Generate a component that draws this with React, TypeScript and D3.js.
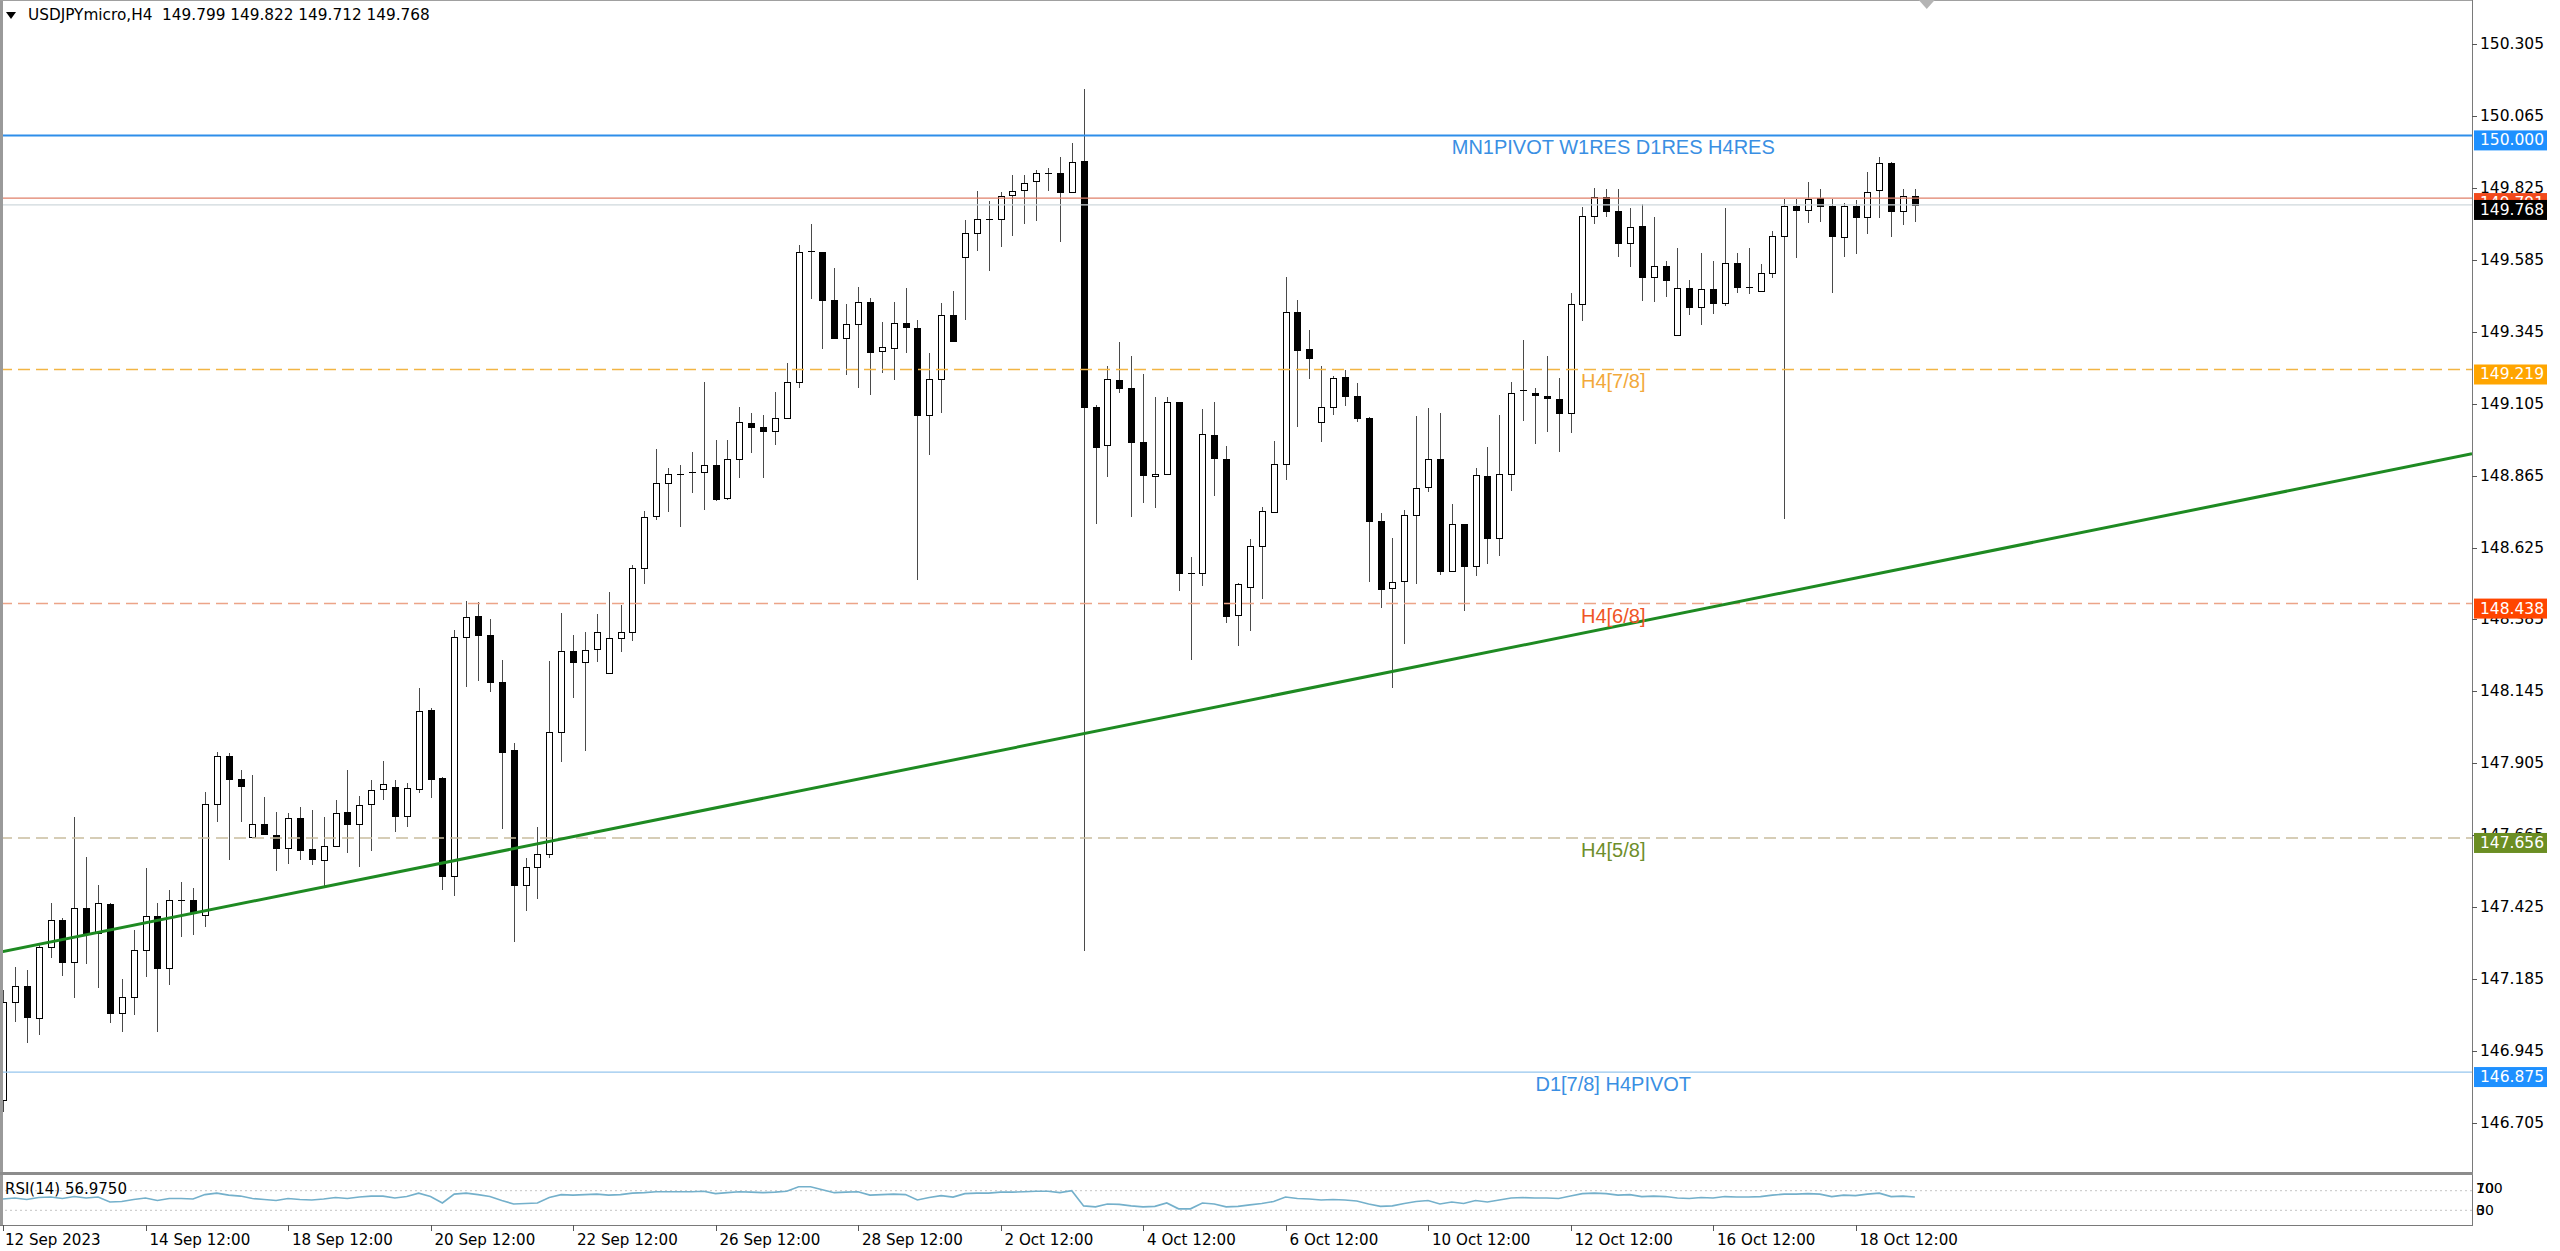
import React from 'react';
import * as d3 from 'd3';

// ---------- DATA ----------
const symbolTitle = 'USDJPYmicro,H4';
const headerOHLC = ['149.799', '149.822', '149.712', '149.768'];

const open = [
  146.782, 147.110, 147.163, 147.054, 147.293, 147.382, 147.243, 147.421, 147.338, 147.435,
  147.073, 147.126, 147.282, 147.397, 147.221, 147.449, 147.449, 147.399, 147.769, 147.930,
  147.853, 147.660, 147.702, 147.666, 147.621, 147.721, 147.618, 147.582, 147.630, 147.742,
  147.702, 147.769, 147.821, 147.825, 147.729, 147.821, 148.083, 147.855, 147.529, 148.325,
  148.396, 148.333, 148.177, 147.949, 147.499, 147.558, 147.604, 148.011, 148.280, 148.244,
  148.285, 148.207, 148.324, 148.344, 148.556, 148.730, 148.839, 148.872, 148.875, 148.876,
  148.902, 148.789, 148.919, 149.042, 149.028, 149.014, 149.056, 149.178, 149.610, 149.610,
  149.451, 149.323, 149.371, 149.445, 149.281, 149.290, 149.375, 149.359, 149.067, 149.186,
  149.401, 149.595, 149.676, 149.721, 149.720, 149.801, 149.818, 149.849, 149.873, 149.873,
  149.810, 149.916, 149.093, 148.967, 149.184, 149.158, 148.978, 148.864, 148.872, 149.109,
  148.541, 148.541, 149.000, 148.920, 148.400, 148.494, 148.631, 148.745, 148.903, 149.410,
  149.286, 149.045, 149.093, 149.193, 149.131, 149.058, 148.713, 148.489, 148.513, 148.733,
  148.826, 148.922, 148.547, 148.702, 148.564, 148.864, 148.656, 148.870, 149.146, 149.142,
  149.131, 149.120, 149.075, 149.437, 149.731, 149.793, 149.748, 149.640, 149.698, 149.526,
  149.565, 149.334, 149.490, 149.426, 149.486, 149.440, 149.575, 149.495, 149.481, 149.542,
  149.664, 149.764, 149.751, 149.792, 149.764, 149.660, 149.764, 149.729, 149.818, 149.907,
  149.748, 149.799,
];
const high = [
  147.148, 147.226, 147.215, 147.304, 147.438, 147.388, 147.727, 147.593, 147.499, 147.440,
  147.184, 147.349, 147.555, 147.438, 147.482, 147.510, 147.488, 147.810, 147.944, 147.938,
  147.883, 147.866, 147.794, 147.744, 147.738, 147.760, 147.749, 147.727, 147.783, 147.883,
  147.796, 147.849, 147.914, 147.849, 147.838, 148.158, 148.090, 147.860, 148.350, 148.448,
  148.444, 148.385, 148.250, 147.972, 147.590, 147.694, 148.247, 148.405, 148.333, 148.344,
  148.402, 148.478, 148.433, 148.567, 148.748, 148.953, 148.889, 148.900, 148.945, 149.178,
  148.984, 148.984, 149.095, 149.073, 149.067, 149.145, 149.242, 149.634, 149.704, 149.612,
  149.556, 149.437, 149.495, 149.456, 149.379, 149.445, 149.492, 149.384, 149.273, 149.442,
  149.482, 149.718, 149.816, 149.782, 149.812, 149.868, 149.868, 149.885, 149.890, 149.929,
  149.974, 150.155, 149.100, 149.231, 149.312, 149.264, 149.204, 149.128, 149.126, 149.112,
  148.594, 149.086, 149.109, 148.965, 148.506, 148.652, 148.759, 148.981, 149.529, 149.451,
  149.351, 149.231, 149.197, 149.217, 149.175, 149.060, 148.739, 148.656, 148.750, 149.064,
  149.089, 149.075, 148.769, 148.705, 148.891, 148.961, 149.067, 149.178, 149.317, 149.157,
  149.264, 149.189, 149.475, 149.762, 149.823, 149.820, 149.820, 149.757, 149.771, 149.729,
  149.582, 149.623, 149.518, 149.609, 149.582, 149.757, 149.609, 149.623, 149.571, 149.682,
  149.787, 149.787, 149.846, 149.820, 149.787, 149.776, 149.785, 149.879, 149.929, 149.910,
  149.820, 149.822,
];
const low = [
  146.742, 147.043, 146.971, 146.998, 147.254, 147.195, 147.121, 147.237, 147.157, 147.037,
  147.009, 147.065, 147.193, 147.009, 147.165, 147.326, 147.332, 147.360, 147.710, 147.582,
  147.710, 147.658, 147.666, 147.547, 147.569, 147.582, 147.566, 147.493, 147.627, 147.605,
  147.560, 147.613, 147.783, 147.677, 147.694, 147.805, 147.788, 147.484, 147.462, 148.161,
  148.181, 148.144, 147.685, 147.310, 147.412, 147.454, 147.590, 147.910, 148.122, 147.947,
  148.244, 148.203, 148.277, 148.313, 148.505, 148.717, 148.745, 148.694, 148.806, 148.750,
  148.780, 148.785, 148.856, 148.939, 148.856, 148.967, 149.054, 149.156, 149.453, 149.286,
  149.320, 149.201, 149.156, 149.134, 149.208, 149.184, 149.273, 148.517, 148.934, 149.073,
  149.313, 149.384, 149.615, 149.549, 149.627, 149.664, 149.704, 149.716, 149.816, 149.645,
  149.808, 147.280, 148.703, 148.859, 149.139, 148.726, 148.772, 148.756, 148.870, 148.480,
  148.250, 148.497, 148.798, 148.372, 148.296, 148.347, 148.453, 148.742, 148.850, 149.028,
  149.186, 148.978, 149.067, 149.097, 149.045, 148.509, 148.422, 148.155, 148.302, 148.505,
  148.811, 148.533, 148.545, 148.413, 148.530, 148.569, 148.597, 148.815, 149.048, 148.970,
  149.011, 148.945, 149.008, 149.382, 149.704, 149.727, 149.595, 149.562, 149.448, 149.445,
  149.460, 149.331, 149.401, 149.367, 149.404, 149.431, 149.473, 149.471, 149.479, 149.523,
  148.720, 149.590, 149.709, 149.712, 149.475, 149.595, 149.604, 149.671, 149.723, 149.660,
  149.700, 149.712,
];
const close = [
  147.110, 147.163, 147.060, 147.293, 147.382, 147.243, 147.421, 147.338, 147.438, 147.073,
  147.126, 147.282, 147.397, 147.221, 147.449, 147.447, 147.404, 147.769, 147.929, 147.853,
  147.829, 147.702, 147.668, 147.623, 147.724, 147.616, 147.586, 147.630, 147.740, 147.702,
  147.766, 147.816, 147.836, 147.729, 147.824, 148.081, 147.853, 147.529, 148.325, 148.394,
  148.333, 148.177, 147.942, 147.499, 147.558, 147.601, 148.011, 148.280, 148.244, 148.283,
  148.344, 148.324, 148.344, 148.556, 148.726, 148.839, 148.869, 148.871, 148.876, 148.902,
  148.787, 148.919, 149.045, 149.028, 149.014, 149.056, 149.178, 149.610, 149.615, 149.451,
  149.323, 149.371, 149.445, 149.278, 149.295, 149.373, 149.360, 149.067, 149.186, 149.401,
  149.315, 149.673, 149.721, 149.720, 149.798, 149.816, 149.840, 149.873, 149.874, 149.810,
  149.912, 149.093, 148.959, 149.186, 149.158, 148.978, 148.867, 148.871, 149.109, 148.539,
  148.540, 149.003, 148.925, 148.398, 148.502, 148.631, 148.747, 148.903, 149.410, 149.284,
  149.256, 149.095, 149.189, 149.131, 149.056, 148.713, 148.487, 148.511, 148.733, 148.822,
  148.919, 148.547, 148.702, 148.564, 148.867, 148.656, 148.870, 149.142, 149.150, 149.134,
  149.123, 149.075, 149.437, 149.731, 149.793, 149.748, 149.640, 149.696, 149.526, 149.565,
  149.518, 149.490, 149.426, 149.486, 149.442, 149.575, 149.495, 149.494, 149.542, 149.664,
  149.764, 149.751, 149.787, 149.764, 149.664, 149.764, 149.729, 149.812, 149.909, 149.748,
  149.799, 149.768,
];
const rsi = [
  53, 55, 52, 56, 57, 54, 58, 55, 57, 47,
  48, 52, 55, 50, 54, 54, 53, 62, 65, 61,
  59, 54, 52, 50, 54, 52, 51, 53, 56, 54,
  57, 59, 59, 55, 58, 65, 58, 45, 63, 65,
  62, 58, 50, 43, 44, 45, 56, 62, 61, 62,
  63, 61, 62, 65, 66, 68, 68, 68, 68, 69,
  64, 66, 68, 67, 66, 67, 69, 78, 78, 72,
  66, 67, 68, 61, 62, 63, 62, 51, 56, 60,
  57, 64, 65, 65, 67, 67, 68, 69, 69, 66,
  70, 39, 37, 43, 42, 39, 37, 38, 45, 33,
  33, 45, 43, 37, 38, 41, 44, 48, 57, 54,
  53, 51, 52, 51, 49, 43, 38, 39, 44, 48,
  50, 43, 47, 44, 50, 47, 51, 55, 56, 55,
  55, 54, 59, 64, 65, 64, 61, 62, 58, 59,
  58, 55, 54, 56, 55, 58, 57, 57, 58, 61,
  63, 63, 64, 63, 58, 61, 60, 63, 65, 58,
  59, 57,
];
const rsiLabel = 'RSI(14) 56.9750';
const rsiLevels = [70, 30];
const rsiAxisLabels = [['100', '70'], ['30', '0']];

const priceTicks = [150.305, 150.065, 149.825, 149.585, 149.345, 149.105, 148.865, 148.625,
  148.385, 148.145, 147.905, 147.665, 147.425, 147.185, 146.945, 146.705];

const dateTickIndex = [0, 12, 24, 36, 48, 60, 72, 84, 96, 108, 120, 132, 144, 156];
const dateTickLabels = ['12 Sep 2023', '14 Sep 12:00', '18 Sep 12:00', '20 Sep 12:00', '22 Sep 12:00',
  '26 Sep 12:00', '28 Sep 12:00', '2 Oct 12:00', '4 Oct 12:00', '6 Oct 12:00', '10 Oct 12:00',
  '12 Oct 12:00', '16 Oct 12:00', '18 Oct 12:00'];

const levelPrices = [150.0, 149.219, 148.438, 147.656, 146.875];
const levelNames = ['MN1PIVOT W1RES D1RES H4RES', 'H4[7/8]', 'H4[6/8]', 'H4[5/8]', 'D1[7/8] H4PIVOT'];
const levelTextIndex = 135.6;

const bidPrice = 149.768;
const askPrice = 149.791;

const trendIndex = [0, 160];
const trendPrice = [147.277, 148.555];

const shiftIndex = 162;

// ---------- STYLES ----------
const levelStyles = [
  { line: '#2E8EEA', width: 2, dash: undefined as string | undefined, box: '#1E90FF', text: '#3A8FE3' },
  { line: '#F2B544', width: 1.5, dash: '12 6', box: '#FFA500', text: '#F2A93B' },
  { line: '#ECA488', width: 1.5, dash: '12 6', box: '#FF4500', text: '#EF5526' },
  { line: '#C9BD9F', width: 1.5, dash: '12 6', box: '#6B8E23', text: '#6E8E2B' },
  { line: '#96C6EE', width: 1.2, dash: undefined as string | undefined, box: '#1E90FF', text: '#3A8FE3' },
];

const UI_FONT = '"DejaVu Sans", Verdana, sans-serif';
const OBJ_FONT = '"Liberation Sans", Arial, sans-serif';

export default function App() {
  const W = 2560, H = 1251;
  const plotRight = 2472;
  const plotBottom = 1172;
  const rsiTop = 1176, rsiBottom = 1225;

  const x = d3.scaleLinear().domain([0, 160]).range([3, 1903]);
  const y = d3.scaleLinear().domain([146.705, 150.305]).range([1123, 44]);
  const ry = d3.scaleLinear().domain([0, 100]).range([rsiBottom, rsiTop]);

  const slope = (trendPrice[1] - trendPrice[0]) / (trendIndex[1] - trendIndex[0]);
  const tpAt = (i: number) => trendPrice[0] + (i - trendIndex[0]) * slope;
  const iL = x.invert(0), iR = x.invert(plotRight);

  const rsiPath = d3.line<number>().x((_, i) => x(i)).y((v) => ry(v))(rsi) || '';

  const boxX = 2474, boxW = 73, boxH = 20, boxOff = 5;
  const sx = x(shiftIndex);

  return (
    <svg width={W} height={H} style={{ position: 'fixed', left: 0, top: 0, background: '#fff' }}
      xmlns="http://www.w3.org/2000/svg">
      <defs>
        <clipPath id="mainClip"><rect x={2} y={0} width={plotRight - 2} height={plotBottom} /></clipPath>
        <clipPath id="rsiClip"><rect x={2} y={rsiTop} width={plotRight - 2} height={rsiBottom - rsiTop} /></clipPath>
      </defs>
      <rect x={0} y={0} width={W} height={H} fill="#fff" />

      {/* candles */}
      <g clipPath="url(#mainClip)" shapeRendering="crispEdges">
        {open.map((o, i) => {
          const c = close[i];
          const cx = Math.round(x(i)) + 0.5;
          const yT = Math.round(y(Math.max(o, c)));
          const yB = Math.round(y(Math.min(o, c)));
          const bull = c >= o;
          return (
            <g key={i}>
              <line x1={cx} x2={cx} y1={y(high[i])} y2={y(low[i])} stroke="#4a4a4a" strokeWidth={1} />
              {yB - yT < 2 ? (
                <line x1={cx - 3.5} x2={cx + 3.5} y1={yT + 0.5} y2={yT + 0.5} stroke="#000" strokeWidth={1.5} />
              ) : (
                <rect x={cx - 3} y={yT + 0.5} width={6} height={yB - yT} fill={bull ? '#fff' : '#000'}
                  stroke="#000" strokeWidth={1} />
              )}
            </g>
          );
        })}
      </g>

      {/* level lines */}
      <g clipPath="url(#mainClip)">
        {levelPrices.map((p, k) => (
          <line key={k} x1={0} x2={plotRight} y1={y(p)} y2={y(p)} stroke={levelStyles[k].line}
            strokeWidth={levelStyles[k].width} strokeDasharray={levelStyles[k].dash} />
        ))}
        <line x1={0} x2={plotRight} y1={y(bidPrice)} y2={y(bidPrice)} stroke="#CFD8DC" strokeWidth={1.2} />
        <line x1={0} x2={plotRight} y1={y(askPrice)} y2={y(askPrice)} stroke="#E0806A" strokeWidth={1.2} />
        <line x1={0} x2={plotRight} y1={y(tpAt(iL))} y2={y(tpAt(iR))} stroke="#1E8A22" strokeWidth={3} />
        {levelNames.map((n, k) => (
          <text key={k} x={x(levelTextIndex)} y={y(levelPrices[k]) + 19} textAnchor="middle"
            fontFamily={OBJ_FONT} fontSize={20} fill={levelStyles[k].text}>{n}</text>
        ))}
      </g>

      {/* RSI panel */}
      <g clipPath="url(#rsiClip)">
        {rsiLevels.map((v) => (
          <line key={v} x1={0} x2={plotRight} y1={ry(v)} y2={ry(v)} stroke="#C4C4C4" strokeWidth={1}
            strokeDasharray="2 3" />
        ))}
        <path d={rsiPath} fill="none" stroke="#74B0CB" strokeWidth={1.6} />
      </g>
      <text x={5} y={1194} fontFamily={UI_FONT} fontSize={15} fill="#000">{rsiLabel}</text>

      {/* frames */}
      <g shapeRendering="crispEdges">
        <rect x={0} y={0} width={3} height={rsiBottom} fill="#9a9a9a" />
        <line x1={0} x2={plotRight} y1={0.5} y2={0.5} stroke="#a0a0a0" />
        <line x1={plotRight + 0.5} x2={plotRight + 0.5} y1={0} y2={rsiBottom} stroke="#7a7a7a" />
        <rect x={0} y={plotBottom} width={plotRight + 1} height={3} fill="#8c8c8c" />
        <line x1={0} x2={plotRight + 1} y1={rsiBottom + 0.5} y2={rsiBottom + 0.5} stroke="#7a7a7a" />
      </g>

      {/* chart shift marker */}
      <path d={`M${sx - 8},0 L${sx + 8},0 L${sx},9 Z`} fill="#b4b4b4" />

      {/* header */}
      <path d="M6,12 L16,12 L11,19 Z" fill="#000" />
      <text x={28} y={20} fontFamily={UI_FONT} fontSize={15.3} fill="#000" xmlSpace="preserve">
        {symbolTitle + '  ' + headerOHLC.join(' ')}
      </text>

      {/* price axis */}
      <g fontFamily={UI_FONT} fontSize={15.5} fill="#000">
        {priceTicks.map((p) => (
          <g key={p}>
            <line x1={plotRight} x2={plotRight + 5} y1={Math.round(y(p)) + 0.5} y2={Math.round(y(p)) + 0.5}
              stroke="#555" shapeRendering="crispEdges" />
            <text x={2480} y={y(p)} dominantBaseline="central">{p.toFixed(3)}</text>
          </g>
        ))}
      </g>

      {/* price boxes */}
      <g fontFamily={UI_FONT} fontSize={15.5}>
        {levelPrices.map((p, k) => (
          <g key={k}>
            <rect x={boxX} y={y(p) + boxOff - boxH / 2} width={boxW} height={boxH} fill={levelStyles[k].box} />
            <text x={2480} y={y(p) + boxOff} dominantBaseline="central" fill="#fff">{p.toFixed(3)}</text>
          </g>
        ))}
        <rect x={boxX} y={y(askPrice) + boxOff - boxH / 2} width={boxW} height={boxH} fill="#F24A1C" />
        <text x={2480} y={y(askPrice) + boxOff} dominantBaseline="central" fill="#fff">{askPrice.toFixed(3)}</text>
        <rect x={boxX} y={y(bidPrice) + boxOff - boxH / 2} width={boxW} height={boxH} fill="#000" />
        <text x={2480} y={y(bidPrice) + boxOff} dominantBaseline="central" fill="#fff">{bidPrice.toFixed(3)}</text>
      </g>

      {/* RSI axis */}
      <g fontFamily={UI_FONT} fontSize={14} fill="#000">
        {rsiAxisLabels.map((pair, k) =>
          pair.map((t) => (
            <text key={t} x={2476} y={ry(rsiLevels[k]) + (k === 0 ? -3 : 0)} dominantBaseline="central">{t}</text>
          ))
        )}
      </g>

      {/* date axis */}
      <g fontFamily={UI_FONT} fontSize={15.1} fill="#000">
        {dateTickIndex.map((i, k) => (
          <g key={i}>
            <line x1={Math.round(x(i)) + 0.5} x2={Math.round(x(i)) + 0.5} y1={rsiBottom} y2={rsiBottom + 6}
              stroke="#555" shapeRendering="crispEdges" />
            <text x={x(i) + (k === 0 ? 2 : 4)} y={1245}>{dateTickLabels[k]}</text>
          </g>
        ))}
      </g>
    </svg>
  );
}
